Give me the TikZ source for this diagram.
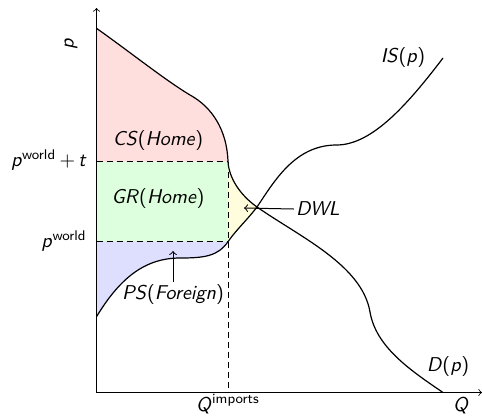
\documentclass[tikz,border=0pt]{standalone}
\usepackage{tikz}
\renewcommand{\familydefault}{\sfdefault}
\newcommand\vi[1]{\textit{#1}}
\tikzset{
  curve/.style={line width=0.6pt},
  axisline/.style={->, line width=0.4pt},
  guide/.style={dash pattern=on 3pt off 2pt, line width=0.4pt},
  lbl/.style={inner sep=1pt, font=\sffamily},
  pointer/.style={->, line width=0.5pt},
}
\begin{document}
\begin{tikzpicture}[x=0.5pt,y=-0.5pt]
\useasboundingbox (0,0) rectangle (482,419);
% key points
\coordinate (O) at (96.5,392.5);
\coordinate (ytop) at (96.5,8);
\coordinate (xend) at (482,392.5);
\coordinate (Dstart) at (96.5,28.3);
\coordinate (Sstart) at (96.5,316.7);
\coordinate (A) at (228,161.7);
\coordinate (B) at (228,241.7);
\coordinate (Ay) at (96.5,161.7);
\coordinate (By) at (96.5,241.7);
\coordinate (X) at (257,207);
\coordinate (Qi) at (228,392.5);
\coordinate (Dend) at (443,392.5);
\coordinate (Send) at (443,58);
% fills
\fill[red!13] (Dstart) .. controls (130,52) and (165,80) .. (190,95)
   .. controls (212,107) and (227,130) .. (A) -- (Ay) -- cycle;
\fill[green!13] (Ay) rectangle (B);
\fill[blue!13] (By) -- (B) .. controls (218,256) and (205,258) .. (180,258)
   .. controls (145,258) and (120,278) .. (Sstart) -- cycle;
\fill[yellow!14] (A) .. controls (229,178) and (240,195) .. (X)
   .. controls (248,219) and (236,230) .. (B) -- cycle;
% guides
\draw[guide] (Ay) -- (A);
\draw[guide] (By) -- (B);
\draw[guide] (A) -- (Qi);
% demand
\draw[curve] (Dstart) .. controls (130,52) and (165,80) .. (190,95)
   .. controls (212,107) and (227,130) .. (A)
   .. controls (229,178) and (240,195) .. (X)
   .. controls (300,237) and (362,265) .. (370,312)
   .. controls (376,347) and (410,370) .. (Dend);
% import supply
\draw[curve] (Sstart) .. controls (120,278) and (145,258) .. (180,258)
   .. controls (205,258) and (218,256) .. (B)
   .. controls (236,230) and (248,219) .. (X)
   .. controls (275,180) and (295,146) .. (335,145)
   .. controls (370,146) and (405,108) .. (Send);
% axes
\draw[axisline] (O) -- (ytop);
\draw[axisline] (O) -- (xend);
% labels
\node[lbl, rotate=90] (plab) at (71,44) {\vi{p}};
\node[lbl] (Qlab) at (461,406) {\vi{Q}};
\node[lbl] (Qimp) at (228,404) {\vi{Q}\textsuperscript{imports}};
\node[lbl, anchor=east] (pwt) at (89,160) {\vi{p}\textsuperscript{world}\,+\,\vi{t}};
\node[lbl, anchor=east] (pw) at (89,241) {\vi{p}\textsuperscript{world}};
\node[lbl] (cs) at (158,140) {\vi{CS}(\vi{Home})};
\node[lbl] (gr) at (158,198) {\vi{GR}(\vi{Home})};
\node[lbl] (ps) at (173,294) {\vi{PS}(\vi{Foreign})};
\node[lbl] (dwl) at (318,209) {\vi{DWL}};
\node[lbl] (is) at (403,57) {\vi{IS}(\vi{p})};
\node[lbl] (dp) at (448,366) {\vi{D}(\vi{p})};
\coordinate (dwltip) at (244,208);
\coordinate (pstip) at (173,251);
\draw[pointer] (dwl.west) -- (dwltip);
\draw[pointer] (ps.north -| pstip) -- (pstip);
\end{tikzpicture}
\end{document}
